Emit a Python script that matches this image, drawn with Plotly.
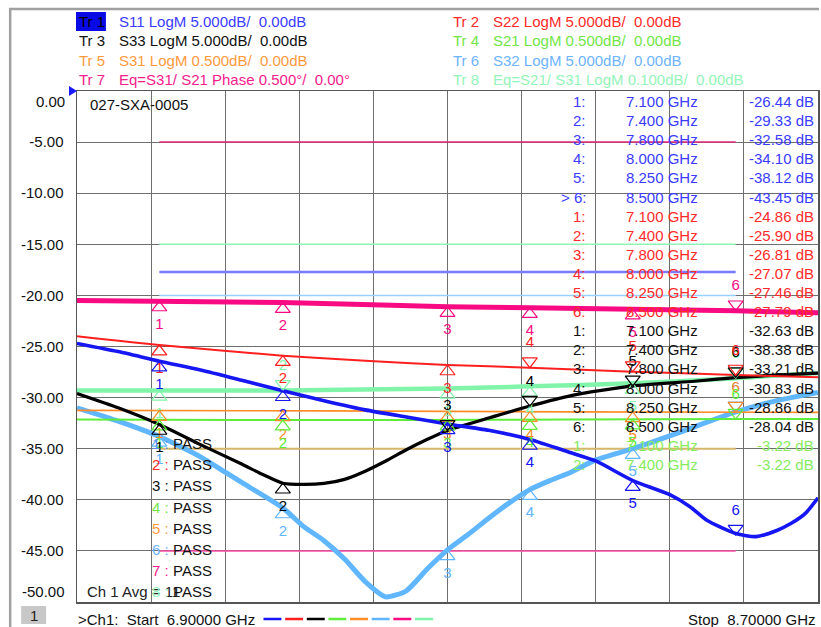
import plotly.graph_objects as go

# ---------------- data ----------------
FREQ_START_GHZ = 6.9
FREQ_STOP_GHZ = 8.7
GRID_DB_PER_DIV = 5.0
REF_TOP_DB = 0.0
N_DIV = 10

MARKER_FREQ_GHZ = [7.1, 7.4, 7.8, 8.0, 8.25, 8.5]
MARKER_FREQ_TEXT = ["7.100 GHz", "7.400 GHz", "7.800 GHz", "8.000 GHz", "8.250 GHz", "8.500 GHz"]

# Tr1 S11 LogM 5 dB/div
S11_FREQ = [6.9, 7.0, 7.1, 7.2, 7.3, 7.4, 7.5, 7.6, 7.7, 7.8, 7.9, 8.0, 8.1, 8.16,
            8.25, 8.34, 8.39, 8.43, 8.5, 8.55, 8.6, 8.635, 8.67, 8.7]
S11_DB = [-24.7, -25.5, -26.44, -27.3, -28.3, -29.33, -30.3, -31.2, -31.9, -32.58, -33.2,
          -34.1, -35.4, -36.2, -38.12, -39.5, -40.7, -42.0, -43.3, -43.6, -43.0, -42.3,
          -41.3, -39.8]
S11_MARKER_DB = [-26.44, -29.33, -32.58, -34.10, -38.12, -43.45]

# Tr2 S22 LogM 5 dB/div
S22_FREQ = [6.9, 7.1, 7.4, 7.6, 7.8, 8.0, 8.25, 8.5, 8.7]
S22_DB = [-24.0, -24.86, -25.90, -26.4, -26.81, -27.07, -27.46, -27.79, -28.0]
S22_MARKER_DB = [-24.86, -25.90, -26.81, -27.07, -27.46, -27.79]

# Tr3 S33 LogM 5 dB/div
S33_FREQ = [6.9, 7.0, 7.1, 7.2, 7.3, 7.35, 7.4, 7.45, 7.5, 7.55, 7.6, 7.65, 7.7, 7.75,
            7.8, 7.9, 8.0, 8.1, 8.25, 8.4, 8.5, 8.6, 8.7]
S33_DB = [-29.6, -31.0, -32.63, -34.6, -36.5, -37.5, -38.38, -38.5, -38.4, -38.0, -37.2,
          -36.2, -35.1, -34.1, -33.21, -32.0, -30.83, -29.8, -28.86, -28.4, -28.04,
          -27.8, -27.6]
S33_MARKER_DB = [-32.63, -38.38, -33.21, -30.83, -28.86, -28.04]

# Tr4 S21 LogM 0.5 dB/div
S21_FREQ = [6.9, 7.3, 7.7, 8.1, 8.5, 8.7]
S21_DB = [-3.215, -3.22, -3.22, -3.215, -3.21, -3.21]
S21_MARKER_DB = [-3.22, -3.22, -3.22, -3.215, -3.21, -3.21]

# Tr5 S31 LogM 0.5 dB/div
S31_FREQ = [6.9, 7.5, 8.1, 8.7]
S31_DB = [-3.125, -3.13, -3.14, -3.145]
S31_MARKER_DB = [-3.127, -3.13, -3.135, -3.138, -3.14, -3.143]

# Tr6 S32 LogM 5 dB/div
S32_FREQ = [6.9, 7.0, 7.1, 7.2, 7.26, 7.3, 7.4, 7.45, 7.5, 7.55, 7.6, 7.65, 7.7, 7.75,
            7.8, 7.85, 7.9, 7.95, 8.0, 8.05, 8.1, 8.16, 8.25, 8.35, 8.5, 8.6, 8.7]
S32_DB = [-31.0, -32.3, -33.8, -35.8, -37.3, -38.3, -40.8, -42.6, -44.0, -45.8, -48.0,
          -49.5, -48.9, -46.8, -44.9, -43.4, -41.8, -40.3, -39.0, -38.1, -37.3, -36.1,
          -35.0, -33.6, -31.4, -30.3, -29.5]
S32_MARKER_DB = [-33.8, -40.8, -44.9, -39.0, -35.0, -31.4]

# Tr7 Eq=S31/S21 Phase 0.5 deg/div
PH_FREQ = [6.9, 7.4, 7.8, 8.0, 8.25, 8.5, 8.7]
PH_DEG = [-2.05, -2.07, -2.11, -2.12, -2.135, -2.15, -2.17]
PH_MARKER_DEG = [-2.055, -2.07, -2.11, -2.12, -2.135, -2.15]

# Tr8 Eq=S21/S31 LogM 0.1 dB/div
RATIO_FREQ = [6.9, 7.4, 7.8, 8.0, 8.25, 8.5, 8.7]
RATIO_DB = [-0.586, -0.586, -0.582, -0.578, -0.572, -0.562, -0.552]
RATIO_MARKER_DB = [-0.586, -0.586, -0.582, -0.578, -0.572, -0.562]

# limit lines (grid units) from 7.1 to 8.5 GHz
LIMIT_START_GHZ = 7.1
LIMIT_STOP_GHZ = 8.5
LIMIT_LEVELS = [-5.0, -15.0, -17.7, -20.0, -35.0, -45.0]
LIMIT_COLORS = ["#e02a78", "#8ff5b4", "#7a7aff", "#96d2ff", "#d6b66a", "#ff4aa6"]
LIMIT_WIDTHS = [1.5, 1.5, 2.5, 1.5, 2, 1.5]

Y_TICK_VALUES = [-5, -10, -15, -20, -25, -30, -35, -40, -45]

# ---------------- layout constants ----------------
W, H = 821, 627
L, R, T, B = 77, 1, 91, 25
PW = W - L - R
PH = H - T - B
PX_PER_UNIT = PH / (GRID_DB_PER_DIV * N_DIV)
FONT = "Liberation Sans, Arial, sans-serif"
NB = "\u00a0"


def pxx(x):
    return (x - L) / PW


def pxy(y):
    return (H - B - y) / PH


TRACES = [
    # name, freq, values, markers, scale/div, colour, width, marker flags
    ("Tr8", RATIO_FREQ, RATIO_DB, RATIO_MARKER_DB, 0.1, "#80f5aa", 4.5, [1, -1, 1, 1, 1, -1]),
    ("Tr7", PH_FREQ, PH_DEG, PH_MARKER_DEG, 0.5, "#f80a82", 5.0, [1, 1, 1, 1, 1, -1]),
    ("Tr6", S32_FREQ, S32_DB, S32_MARKER_DB, 5.0, "#60b6ff", 5.0, [1, 1, 1, 1, 1, -1]),
    ("Tr5", S31_FREQ, S31_DB, S31_MARKER_DB, 0.5, "#ff8c26", 1.6, [1, 1, 1, 1, 1, -1]),
    ("Tr4", S21_FREQ, S21_DB, S21_MARKER_DB, 0.5, "#5ded3a", 2.0, [1, 1, 1, 1, 1, -1]),
    ("Tr3", S33_FREQ, S33_DB, S33_MARKER_DB, 5.0, "#000000", 3.2, [1, 1, -1, -1, -1, -1]),
    ("Tr2", S22_FREQ, S22_DB, S22_MARKER_DB, 5.0, "#ff1f1f", 2.0, [1, 1, 1, -1, -1, -1]),
    ("Tr1", S11_FREQ, S11_DB, S11_MARKER_DB, 5.0, "#1616f2", 3.6, [1, 1, 1, 1, 1, -1]),
]

fig = go.Figure()

# limit lines
for lv, lc, lw in zip(LIMIT_LEVELS, LIMIT_COLORS, LIMIT_WIDTHS):
    fig.add_trace(go.Scatter(x=[LIMIT_START_GHZ, LIMIT_STOP_GHZ], y=[lv, lv], mode="lines",
                             line=dict(color=lc, width=lw), hoverinfo="skip", showlegend=False))

# traces
for name, f, v, mk, scale, col, lw, flags in TRACES:
    k = GRID_DB_PER_DIV / scale
    fig.add_trace(go.Scatter(x=f, y=[val * k for val in v], mode="lines",
                             line=dict(color=col, width=lw, shape="spline", smoothing=0.6),
                             name=name, showlegend=False))

# markers
TRI_R = 6.5  # px from centre to vertex
LBL_OFF = 24.0
for name, f, v, mk, scale, col, lw, flags in TRACES:
    k = GRID_DB_PER_DIV / scale
    for i, (mf, mv, fl) in enumerate(zip(MARKER_FREQ_GHZ, mk, flags)):
        yv = mv * k
        if fl > 0:
            sym = "triangle-up-open"
            yc = yv - TRI_R / PX_PER_UNIT
            yt = yv - LBL_OFF / PX_PER_UNIT
        else:
            sym = "triangle-down-open"
            yc = yv + TRI_R / PX_PER_UNIT
            yt = yv + LBL_OFF / PX_PER_UNIT
        fig.add_trace(go.Scatter(x=[mf], y=[yc], mode="markers",
                                 marker=dict(symbol=sym, size=13, color=col, line=dict(color=col, width=1.2)),
                                 hoverinfo="skip", showlegend=False))
        fig.add_trace(go.Scatter(x=[mf], y=[yt], mode="text", text=[str(i + 1)],
                                 textfont=dict(family=FONT, size=15, color=col),
                                 hoverinfo="skip", showlegend=False))

ann = []


def add_text(text, x, y, color, size=15, xanchor="left", yanchor="middle"):
    ann.append(dict(text=text, x=pxx(x), y=pxy(y), xref="paper", yref="paper", showarrow=False,
                    xanchor=xanchor, yanchor=yanchor, font=dict(family=FONT, size=size, color=color),
                    borderpad=0))


# header
HEADER_LEFT = [
    ("Tr 1", "S11 LogM 5.000dB/" + NB + " 0.00dB", "#3b3bff"),
    ("Tr 3", "S33 LogM 5.000dB/" + NB + " 0.00dB", "#111111"),
    ("Tr 5", "S31 LogM 0.500dB/" + NB + " 0.00dB", "#ff9a3c"),
    ("Tr 7", "Eq=S31/ S21 Phase 0.500\u00b0/" + NB + " 0.00\u00b0", "#f5208c"),
]
HEADER_RIGHT = [
    ("Tr 2", "S22 LogM 5.000dB/" + NB + " 0.00dB", "#ff2a2a"),
    ("Tr 4", "S21 LogM 0.500dB/" + NB + " 0.00dB", "#72e646"),
    ("Tr 6", "S32 LogM 5.000dB/" + NB + " 0.00dB", "#6cb4ff"),
    ("Tr 8", "Eq=S21/ S31 LogM 0.100dB/" + NB + " 0.00dB", "#94f5b8"),
]
HY = [21.5, 41.0, 60.5, 80.0]
for (tr, txt, c), y in zip(HEADER_LEFT, HY):
    add_text(tr, 78, y, "#000000" if tr == "Tr 1" else c)
    add_text(txt, 118, y, c)
for (tr, txt, c), y in zip(HEADER_RIGHT, HY):
    add_text(tr, 453, y, c)
    add_text(txt, 493, y, c)

add_text("027-SXA-0005", 89, 104, "#111111")

# y labels for top/bottom graticule lines
add_text("0.00", 66, 101, "#111111", xanchor="right")
add_text("-50.00", 66, 591, "#111111", xanchor="right")

# marker table
TABLE_BLOCKS = [
    (S11_MARKER_DB, 6, "#3b3bff"),
    (S22_MARKER_DB, 6, "#ff2a2a"),
    (S33_MARKER_DB, 6, "#111111"),
    (S21_MARKER_DB, 2, "#86ec5e"),
]
row = 0
for vals, n, c in TABLE_BLOCKS:
    for i in range(n):
        y = 101.5 + row * 19.1
        lbl = f"{i + 1}:"
        if c == "#3b3bff" and i == 5:
            lbl = ">" + NB + "6:"
        add_text(lbl, 588, y, c, xanchor="right")
        add_text(MARKER_FREQ_TEXT[i], 701, y, c, xanchor="right")
        add_text(f"{vals[i]:.2f} dB", 817, y, c, xanchor="right")
        row += 1

# limit test list
add_text("Ch 1 Avg = 11", 86, 591, "#222222")
PASS_COLORS = ["#5a8cff", "#ff2a2a", "#111111", "#72e646", "#ff9a3c", "#6cb4ff", "#f5208c", "#94f5b8"]
for i, c in enumerate(PASS_COLORS):
    y = 443.5 + i * 21.2
    add_text(f"{i + 1} :", 151, y, c)
    add_text("PASS", 172, y, "#111111")

# footer
add_text("1", 33.5, 615, "#222222", xanchor="center")
add_text(">Ch1:" + NB + " Start" + NB + " 6.90000 GHz", 77, 619, "#111111")
add_text("Stop" + NB + " 8.70000 GHz", 819, 619, "#111111", xanchor="right")

shapes = []
# outer frame
shapes.append(dict(type="path", xref="paper", yref="paper",
                   path=f"M {pxx(10)} {pxy(627)} L {pxx(10)} {pxy(9)} L {pxx(821)} {pxy(9)}",
                   line=dict(color="#a0a0a0", width=2.5)))
# Tr1 highlight
shapes.append(dict(type="rect", xref="paper", yref="paper", x0=pxx(76), x1=pxx(106), y0=pxy(31), y1=pxy(12),
                   fillcolor="#0a0ae6", line=dict(width=0), layer="below"))
# channel box
shapes.append(dict(type="rect", xref="paper", yref="paper", x0=pxx(21), x1=pxx(46), y0=pxy(624), y1=pxy(606),
                   fillcolor="#c8c8c8", line=dict(width=0), layer="below"))
# reference-position arrow
shapes.append(dict(type="path", xref="paper", yref="paper",
                   path=f"M {pxx(69)} {pxy(86)} L {pxx(77)} {pxy(91)} L {pxx(69)} {pxy(96)} Z",
                   fillcolor="#1a1aff", line=dict(width=0)))
# trace colour key
KEY_COLORS = ["#1616f2", "#ff1f1f", "#000000", "#5ded3a", "#ff8c26", "#60b6ff", "#f80a82", "#80f5aa"]
for i, c in enumerate(KEY_COLORS):
    x0 = 264 + i * 21.7
    shapes.append(dict(type="line", xref="paper", yref="paper", x0=pxx(x0), x1=pxx(x0 + 18),
                       y0=pxy(619), y1=pxy(619), line=dict(color=c, width=2.5)))

fig.update_layout(
    width=W, height=H,
    margin=dict(l=L, r=R, t=T, b=B, pad=0),
    paper_bgcolor="white", plot_bgcolor="white",
    showlegend=False, hovermode=False,
    annotations=ann, shapes=shapes,
    xaxis=dict(range=[FREQ_START_GHZ, FREQ_STOP_GHZ], tick0=FREQ_START_GHZ,
               dtick=(FREQ_STOP_GHZ - FREQ_START_GHZ) / N_DIV, showticklabels=False,
               showgrid=True, gridcolor="#6e6e6e", gridwidth=1, zeroline=False,
               showline=True, linecolor="#555555", linewidth=1.5, mirror=True, ticks=""),
    yaxis=dict(range=[REF_TOP_DB - GRID_DB_PER_DIV * N_DIV, REF_TOP_DB], tickvals=Y_TICK_VALUES,
               ticktext=[f"{v:.2f}" for v in Y_TICK_VALUES],
               showgrid=True, gridcolor="#6e6e6e", gridwidth=1, zeroline=False,
               showline=True, linecolor="#555555", linewidth=1.5, mirror=True,
               ticks="outside", ticklen=9, tickcolor="rgba(0,0,0,0)",
               tickfont=dict(family=FONT, size=15, color="#111111")),
)

fig.write_html("out.html", config={"displayModeBar": False, "staticPlot": True},
               post_script="document.body.style.margin='0px';document.body.style.overflow='hidden';")
